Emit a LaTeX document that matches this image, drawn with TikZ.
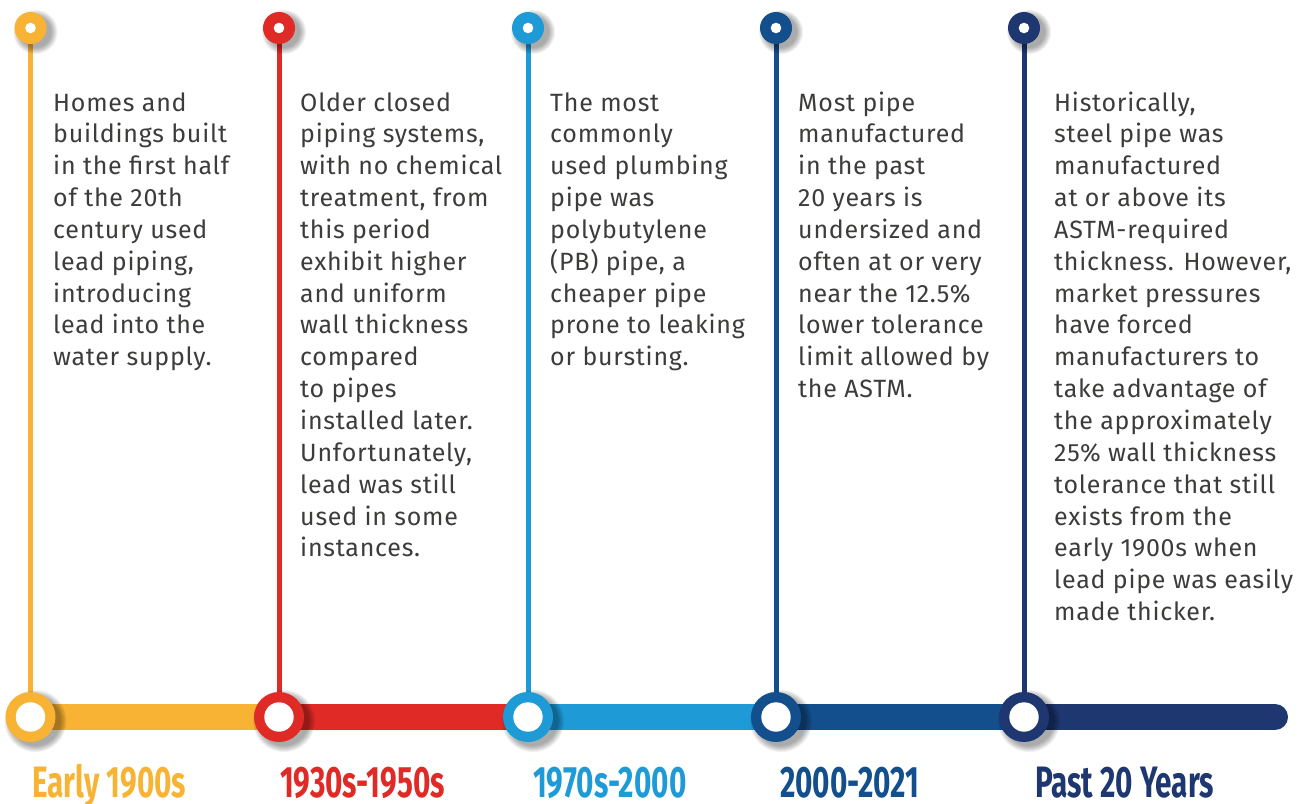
\documentclass[tikz,border=0pt]{standalone}
\usepackage{fontspec}
\setmainfont{Fira Sans}[LetterSpace=3]
\newfontfamily\yearfont{Fira Sans}[FakeStretch=0.675]
\definecolor{cYellow}{HTML}{F8B334}
\definecolor{cRed}{HTML}{E02A26}
\definecolor{cSky}{HTML}{1E9BD7}
\definecolor{cBlue}{HTML}{134F8C}
\definecolor{cNavy}{HTML}{1E3770}
\definecolor{cText}{HTML}{3C3C3B}

% soft shadow below and right of a disc
\newcommand{\discshadow}[3]{%
  \foreach \k in {0,...,6}{\fill[black,opacity=0.055] (#1+5,#2+4) circle ({#3+\k});}}
% a block of lines whose baseline is that of its first line
\newcommand{\lines}[1]{\begin{tabular}[t]{@{}l@{}}#1\end{tabular}}

\tikzset{
  topdot/.style={circle,fill=#1,minimum size=32pt,inner sep=0pt,outer sep=0pt},
  basedot/.style={circle,fill=#1,minimum size=50pt,inner sep=0pt,outer sep=0pt},
  hole/.style={circle,fill=white,minimum size=#1,inner sep=0pt,outer sep=0pt},
  stem/.style={draw=#1,line width=5pt},
  band/.style={draw=#1,line width=26pt},
  bodytext/.style={anchor=base west,inner sep=0pt,text=cText,
    font=\fontsize{25}{31.85}\selectfont},
  yearlabel/.style={anchor=base west,inner sep=0pt,text=#1,
    font=\yearfont\bfseries\fontsize{44}{44}\selectfont},
}

\begin{document}
\begin{tikzpicture}[x=1pt,y=-1pt]
\useasboundingbox (0,0) rectangle (1314,803);

% milestone markers at the top and on the time band
\foreach \i/\x in {1/30.5,2/279,3/528,4/776,5/1024}{
  \coordinate (tp\i) at (\x,28);
  \coordinate (bp\i) at (\x,717);
}
\coordinate (bandend) at (1275,717);

% time band
\draw[band=cYellow] (bp1) -- (bp2);
\draw[band=cRed] (bp2) -- (bp3);
\draw[band=cSky] (bp3) -- (bp4);
\draw[band=cBlue] (bp4) -- (bp5);
\draw[band=cNavy,line cap=round] (bp5) -- (bandend);

% stems
\draw[stem=cYellow] (tp1) -- (bp1);
\draw[stem=cRed] (tp2) -- (bp2);
\draw[stem=cSky] (tp3) -- (bp3);
\draw[stem=cBlue] (tp4) -- (bp4);
\draw[stem=cNavy] (tp5) -- (bp5);

% shadows and dots
\foreach \x in {30.5,279,528,776,1024}{
  \discshadow{\x}{28}{16}
  \discshadow{\x}{717}{25}
}
\foreach \i/\c in {1/cYellow,2/cRed,3/cSky,4/cBlue,5/cNavy}{
  \node[topdot=\c] (t\i) at (tp\i) {};
  \node[hole=10.6pt] (th\i) at (tp\i) {};
  \node[basedot=\c] (b\i) at (bp\i) {};
  \node[hole=29.4pt] (bh\i) at (bp\i) {};
}

% descriptions
\node[bodytext] (d1) at (53,111) {\lines{Homes and\\buildings built\\in the first half\\of the 20th\\century used\\lead piping,\\introducing\\lead into the\\water supply.}};
\node[bodytext] (d2) at (300,111) {\lines{Older closed\\piping systems,\\with no chemical\\treatment, from\\this period\\exhibit higher\\and uniform\\wall thickness\\compared\\to pipes\\installed later.\\Unfortunately,\\lead was still\\used in some\\instances.}};
\node[bodytext] (d3) at (550,111) {\lines{The most\\commonly\\used plumbing\\pipe was\\polybutylene\\(PB) pipe, a\\cheaper pipe\\prone to leaking\\or bursting.}};
\node[bodytext] (d4) at (798,111) {\lines{Most pipe\\manufactured\\in the past\\20 years is\\undersized and\\often at or very\\near the 12.5\%\\lower tolerance\\limit allowed by\\the ASTM.}};
\node[bodytext] (d5) at (1054,111) {\lines{Historically,\\steel pipe was\\manufactured\\at or above its\\ASTM-required\\thickness. However,\\market pressures\\have forced\\manufacturers to\\take advantage of\\the approximately\\25\% wall thickness\\tolerance that still\\exists from the\\early 1900s when\\lead pipe was easily\\made thicker.}};

% period labels
\node[yearlabel=cYellow] (y1) at (32,797) {Early 1900s};
\node[yearlabel=cRed] (y2) at (280,797) {1930s-1950s};
\node[yearlabel=cSky] (y3) at (533,797) {1970s-2000};
\node[yearlabel=cBlue] (y4) at (780,797) {2000-2021};
\node[yearlabel=cNavy] (y5) at (1035,797) {Past 20 Years};
\end{tikzpicture}
\end{document}
